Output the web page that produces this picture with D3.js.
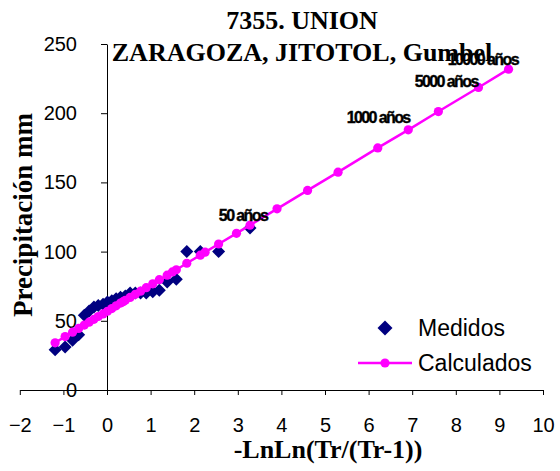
<!DOCTYPE html>
<html><head><meta charset="utf-8">
<script src="https://cdn.jsdelivr.net/npm/d3@7"></script>
<style>html,body{margin:0;padding:0;background:#fff;} svg{display:block}</style>
</head><body>
<svg id="chart" width="560" height="471"></svg>
<script>
// ---------- data ----------
const titleLines = ["7355. UNION", "ZARAGOZA, JITOTOL, Gumbel"];
const xTitle = "-LnLn(Tr/(Tr-1))";
const yTitle = "Precipitación mm";
const xTicks = [-2, -1, 0, 1, 2, 3, 4, 5, 6, 7, 8, 9, 10];
const yTicks = [0, 50, 100, 150, 200, 250];
const seriesNames = ["Medidos", "Calculados"];

// measured (reduced variate, precipitation)
const medX = [-1.19, -0.96, -0.79, -0.65, -0.52, -0.41, -0.30, -0.20, -0.09, 0.01, 0.11, 0.21, 0.31,
              0.42, 0.53, 0.65, 0.77, 0.90, 1.05, 1.20, 1.38, 1.59, 1.83, 2.14, 2.56, 3.28];
const medY = [29, 31, 36, 40, 54, 57, 60, 61, 62, 63.5, 64.5, 66, 67,
              68, 70, 70, 70, 70, 71, 72, 78, 80, 100, 100, 100, 117];

// calculated (Gumbel)
const calX = [-1.19, -0.96, -0.79, -0.65, -0.52, -0.41, -0.30, -0.20, -0.09, 0.01, 0.11, 0.21, 0.31,
              0.37, 0.42, 0.53, 0.65, 0.77, 0.90, 1.05, 1.20, 1.38, 1.50, 1.59, 1.83, 2.14, 2.25,
              2.56, 2.97, 3.28, 3.90, 4.60, 5.30, 6.21, 6.91, 7.60, 8.52, 9.21];
const calY = [34.1, 38.6, 41.8, 44.5, 46.9, 49.0, 51.1, 53.1, 55.0, 56.9, 58.8, 60.8, 62.8,
              63.8, 64.8, 66.9, 69.1, 71.4, 73.9, 76.7, 79.7, 83.0, 85.3, 86.9, 91.6, 97.4, 99.6,
              105.5, 113.2, 119.1, 130.9, 144.2, 157.4, 174.9, 188.0, 201.2, 218.6, 231.8];

// return-period annotations (label, x, y in data units)
const annotText = ["50 años", "1000 años", "5000 años", "10000 años"];
const annotX = [3.12, 6.22, 7.78, 8.62];
const annotY = [122, 193, 219, 235];

// ---------- chart ----------
const svg = d3.select("#chart");
svg.append("rect").attr("width", 560).attr("height", 471).attr("fill", "#fff");

const x = d3.scaleLinear().domain([-2, 10]).range([19.8, 543]);
const y = d3.scaleLinear().domain([0, 250]).range([390, 44]);

const sans = "'Liberation Sans', Arial, sans-serif";
const serif = "'Liberation Serif', 'Times New Roman', serif";

// x axis at y=0
const xAxis = d3.axisBottom(x).tickValues(xTicks).tickSize(5).tickSizeOuter(0).tickFormat(d3.format("d"));
const gx = svg.append("g").attr("transform", `translate(0,${y(0)})`).call(xAxis);
gx.select(".domain").attr("stroke", "#000").attr("stroke-width", 1);
gx.selectAll(".tick line").attr("stroke", "#000");
gx.selectAll(".tick text").attr("font-family", sans).attr("font-size", 20).attr("fill", "#000").attr("dy", 0).attr("y", 42);

// y axis at x=0
const yAxis = d3.axisLeft(y).tickValues(yTicks).tickSize(6).tickSizeOuter(0).tickPadding(24);
const gy = svg.append("g").attr("transform", `translate(${x(0)},0)`).call(yAxis);
gy.select(".domain").attr("stroke", "#000").attr("stroke-width", 1);
gy.selectAll(".tick line").attr("stroke", "#000");
gy.selectAll(".tick text").attr("font-family", sans).attr("font-size", 20).attr("fill", "#000");

// diamonds
const diamond = h => `M0,${-h}L${h},0L0,${h}L${-h},0Z`;
const med = medX.map((v, i) => [v, medY[i]]);
svg.append("g").selectAll("path").data(med).join("path")
  .attr("d", diamond(6.5))
  .attr("transform", d => `translate(${x(d[0])},${y(d[1])})`)
  .attr("fill", "#000080");

// calculated line + dots
const cal = calX.map((v, i) => [v, calY[i]]);
svg.append("path").datum(cal)
  .attr("d", d3.line().x(d => x(d[0])).y(d => y(d[1])))
  .attr("fill", "none").attr("stroke", "#ff00ff").attr("stroke-width", 2.5);
svg.append("g").selectAll("circle").data(cal).join("circle")
  .attr("cx", d => x(d[0])).attr("cy", d => y(d[1])).attr("r", 4.6)
  .attr("fill", "#ff00ff");

// titles
const t = svg.append("text").attr("font-family", serif).attr("font-weight", "bold")
  .attr("font-size", 26).attr("text-anchor", "middle").attr("fill", "#000");
t.append("tspan").attr("x", 302).attr("y", 29).text(titleLines[0]);
t.append("tspan").attr("x", 302).attr("y", 61).text(titleLines[1]);

svg.append("text").attr("x", 328).attr("y", 458)
  .attr("font-family", serif).attr("font-weight", "bold").attr("font-size", 26)
  .attr("text-anchor", "middle").text(xTitle);
svg.append("text").attr("transform", "translate(32,215) rotate(-90)")
  .attr("font-family", serif).attr("font-weight", "bold").attr("font-size", 27)
  .attr("text-anchor", "middle").text(yTitle);

// annotations
svg.append("g").selectAll("text").data(annotText).join("text")
  .attr("x", (d, i) => x(annotX[i])).attr("y", (d, i) => y(annotY[i]))
  .attr("text-anchor", "middle").attr("font-family", sans).attr("font-weight", "bold")
  .attr("font-size", 16).attr("letter-spacing", -1.6).attr("fill", "#000")
  .attr("stroke", "#000").attr("stroke-width", 0.4)
  .text(d => d);

// legend
const lg = svg.append("g");
lg.append("path").attr("d", diamond(7.5)).attr("transform", "translate(385,328)").attr("fill", "#000080");
lg.append("text").attr("x", 418).attr("y", 336).attr("font-family", sans).attr("font-size", 23).text(seriesNames[0]);
lg.append("line").attr("x1", 358).attr("x2", 412).attr("y1", 363).attr("y2", 363)
  .attr("stroke", "#ff00ff").attr("stroke-width", 2.5);
lg.append("circle").attr("cx", 385).attr("cy", 363).attr("r", 4.6).attr("fill", "#ff00ff");
lg.append("text").attr("x", 418).attr("y", 371).attr("font-family", sans).attr("font-size", 23).text(seriesNames[1]);
</script>
</body></html>
